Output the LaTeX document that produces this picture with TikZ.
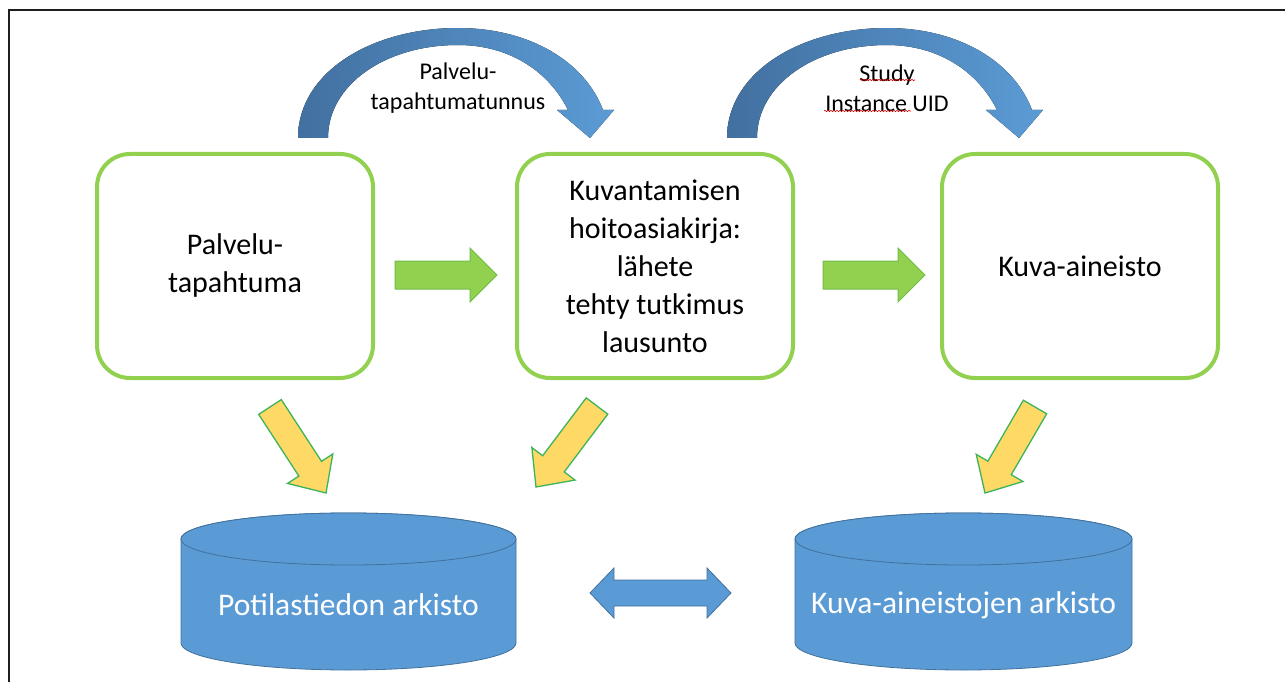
\documentclass[tikz,border=0pt]{standalone}
\usepackage{fontspec}
\setmainfont{Carlito}
\usetikzlibrary{calc,decorations.pathmorphing}
\definecolor{boxgreen}{RGB}{146,208,80}
\definecolor{arrgreenline}{RGB}{112,190,70}
\definecolor{gold}{RGB}{255,217,102}
\definecolor{goldline}{RGB}{60,180,90}
\definecolor{blueL}{RGB}{91,155,213}
\definecolor{blueD}{RGB}{65,113,156}
\definecolor{arcdark}{RGB}{66,112,160}
\definecolor{framegray}{RGB}{30,30,30}

\newcommand\blockarrow[6]{%
  \coordinate (ba-t) at (#2); \coordinate (ba-p) at (#3);
  \coordinate (ba-b) at ($(ba-p)!#6!(ba-t)$);
  \draw[#1] ($(ba-t)!#4!90:(ba-p)$) -- ($(ba-b)!#4!90:(ba-p)$) -- ($(ba-b)!#5!90:(ba-p)$)
    -- (ba-p) -- ($(ba-b)!#5!-90:(ba-p)$) -- ($(ba-b)!#4!-90:(ba-p)$)
    -- ($(ba-t)!#4!-90:(ba-p)$) -- cycle;
}

\tikzset{
  box/.style={draw=boxgreen, line width=4pt, rounded corners=33pt, fill=white,
    minimum width=276pt, minimum height=224pt, align=center, inner sep=0pt,
    font=\fontsize{30}{38}\selectfont},
  lbl/.style={align=center, inner sep=0pt, font=\fontsize{24}{30}\selectfont},
  cyltext/.style={text=white, inner sep=0pt, font=\fontsize{31.5}{36}\selectfont},
  greenarrow/.style={fill=boxgreen, draw=arrgreenline, line width=1pt, line join=miter},
  goldarrow/.style={fill=gold, draw=goldline, line width=1.3pt, line join=miter},
  cyl/.style={fill=blueL, draw=blueD, line width=0.8pt},
  curvearrow/.style={left color=arcdark, right color=blueL},
  spell/.style={draw=red!85!black, line width=0.6pt, decorate,
    decoration={snake, amplitude=0.7pt, segment length=3pt}},
}

\begin{document}
\begin{tikzpicture}[x=1pt,y=-1pt]
\useasboundingbox (0,0) rectangle (1285,682);
\fill[white] (0,0) rectangle (1285,682);

% frame (only left and top edges are visible)
\draw[framegray, line width=2pt] (9,690) -- (9,10) -- (1290,10);

% curved arrows on top
\foreach \s in {0,429}{
\begin{scope}[shift={(\s,0)}]
\fill[curvearrow] (298,138) .. controls (298,72) and (372,28) .. (458,28)
  .. controls (530,28) and (585,62) .. (603,110)
  -- (614,110) -- (590,138) -- (557,110) -- (568,110)
  .. controls (548,70) and (508,45) .. (458,45)
  .. controls (385,45) and (328,85) .. (328,138) -- cycle;
\end{scope}
}

% labels on the curved arrows
\node[lbl] (lab1) at (458,88) {Palvelu-\\tapahtumatunnus};
\node[lbl] (lab2) at (887,88) {Study\\Instance UID};
\coordinate (sp1a) at (860,80);  \coordinate (sp1b) at (915,80);
\coordinate (sp2a) at (824,111); \coordinate (sp2b) at (911,111);
\draw[spell] (sp1a) -- (sp1b);
\draw[spell] (sp2a) -- (sp2b);

% boxes
\node[box] (pt) at (235,266) {Palvelu-\\tapahtuma};
\node[box] (kh) at (655,266) {Kuvantamisen\\hoitoasiakirja:\\lähete\\tehty tutkimus\\lausunto};
\node[box] (ka) at (1080,266) {Kuva-aineisto};

% green arrows
\coordinate (g1s) at (395,275); \coordinate (g1e) at (497,275);
\coordinate (g2s) at (823,275); \coordinate (g2e) at (925,275);
\blockarrow{greenarrow}{g1s}{g1e}{14pt}{27pt}{27pt}
\blockarrow{greenarrow}{g2s}{g2e}{14pt}{27pt}{27pt}

% yellow arrows
\coordinate (y1s) at (270,407); \coordinate (y1e) at (326,493);
\coordinate (y2s) at (597,406); \coordinate (y2e) at (536,487);
\coordinate (y3s) at (1035,407); \coordinate (y3e) at (985,493);
\blockarrow{goldarrow}{y1s}{y1e}{13.5pt}{27pt}{29pt}
\blockarrow{goldarrow}{y2s}{y2e}{13.5pt}{27pt}{29pt}
\blockarrow{goldarrow}{y3s}{y3e}{13.5pt}{27pt}{29pt}

% cylinders
\draw[cyl] (181,539) -- (181,643) arc[start angle=180, end angle=360, x radius=167.5pt, y radius=27pt]
  -- (516,539) arc[start angle=0, end angle=180, x radius=167.5pt, y radius=26pt] -- cycle;
\draw[cyl] (348.5,539) ellipse[x radius=167.5pt, y radius=26pt];
\node[cyltext] (pa) at (348.5,605) {Potilastiedon arkisto};

\draw[cyl] (795,539) -- (795,643) arc[start angle=180, end angle=360, x radius=168.5pt, y radius=27pt]
  -- (1132,539) arc[start angle=0, end angle=180, x radius=168.5pt, y radius=26pt] -- cycle;
\draw[cyl] (963.5,539) ellipse[x radius=168.5pt, y radius=26pt];
\node[cyltext] (kaa) at (963.5,605) {Kuva-aineistojen arkisto};

% double arrow between the archives
\draw[cyl, line join=miter] (590,593) -- (614,568) -- (614,580) -- (707,580) -- (707,568)
  -- (731,593) -- (707,618) -- (707,606) -- (614,606) -- (614,618) -- cycle;
\end{tikzpicture}
\end{document}
